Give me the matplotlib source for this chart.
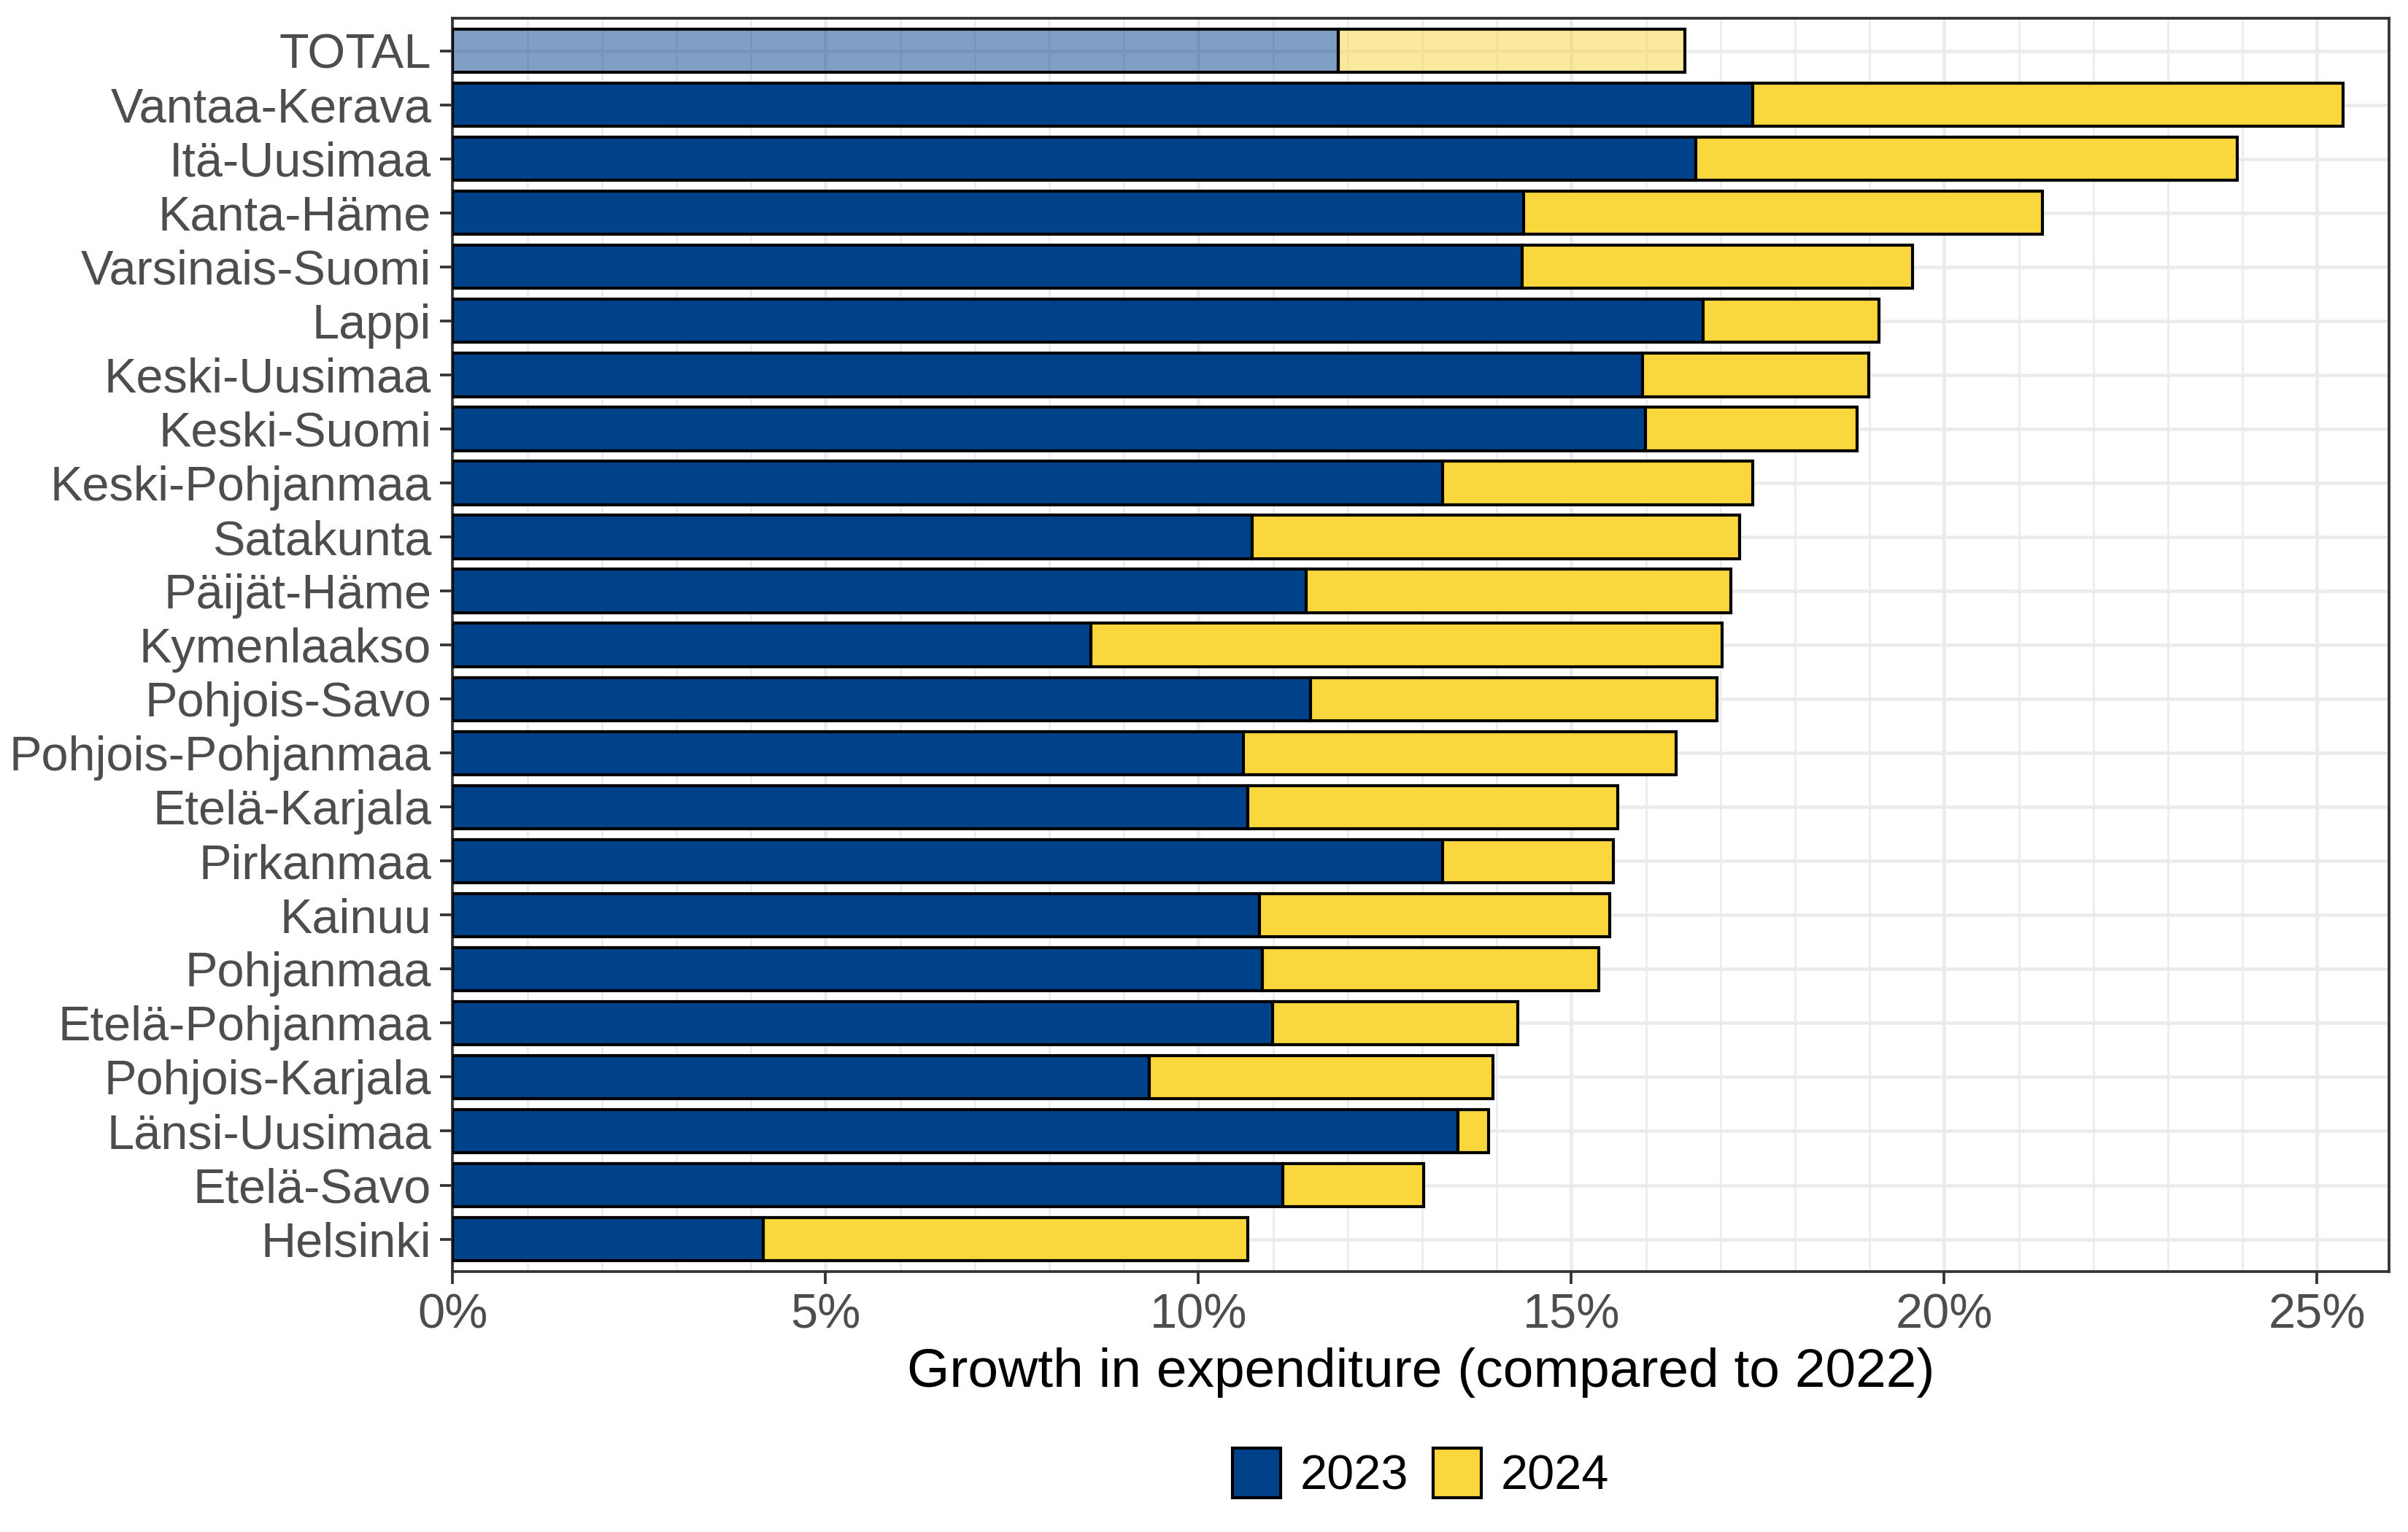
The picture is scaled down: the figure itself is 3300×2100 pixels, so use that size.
import numpy as np
import matplotlib
matplotlib.use("Agg")
import matplotlib.pyplot as plt
from matplotlib.colors import to_rgba
from matplotlib.patches import Patch
from matplotlib.ticker import MultipleLocator, FuncFormatter

plt.rcParams["font.family"] = ["Liberation Sans", "DejaVu Sans"]

regions = ["TOTAL", "Vantaa-Kerava", "Itä-Uusimaa", "Kanta-Häme", "Varsinais-Suomi",
           "Lappi", "Keski-Uusimaa", "Keski-Suomi", "Keski-Pohjanmaa", "Satakunta",
           "Päijät-Häme", "Kymenlaakso", "Pohjois-Savo", "Pohjois-Pohjanmaa",
           "Etelä-Karjala", "Pirkanmaa", "Kainuu", "Pohjanmaa", "Etelä-Pohjanmaa",
           "Pohjois-Karjala", "Länsi-Uusimaa", "Etelä-Savo", "Helsinki"]
# cumulative growth (%) compared to 2022
growth_2023 = [11.87, 17.43, 16.67, 14.36, 14.34, 16.77, 15.95, 15.99, 13.27, 10.72,
               11.44, 8.56, 11.50, 10.60, 10.66, 13.27, 10.82, 10.86, 10.99, 9.34,
               13.48, 11.13, 4.16]
growth_2024 = [16.52, 25.35, 23.93, 21.32, 19.57, 19.12, 18.99, 18.83, 17.43, 17.26,
               17.14, 17.02, 16.95, 16.40, 15.62, 15.56, 15.51, 15.37, 14.28, 13.95,
               13.89, 13.02, 10.66]

blue = "#00428A"
yellow = "#F9D73D"

y = np.arange(len(regions))[::-1]
g23 = np.array(growth_2023)
g24 = np.array(growth_2024)

fig = plt.figure(figsize=(11, 7), dpi=300)
ax = fig.add_axes([0.188, 0.170, 0.804, 0.818])

for i in range(len(regions)):
    a = 0.5 if regions[i] == "TOTAL" else 1.0
    ax.barh(y[i], g23[i], height=0.8, color=to_rgba(blue, a), edgecolor="black",
            linewidth=1.0, zorder=3)
    ax.barh(y[i], g24[i] - g23[i], left=g23[i], height=0.8, color=to_rgba(yellow, a),
            edgecolor="black", linewidth=1.0, zorder=3)

ax.set_xlim(0, 25.96)
ax.set_ylim(-0.6, len(regions) - 0.4)
ax.set_yticks(y)
ax.set_yticklabels(regions)
ax.xaxis.set_major_locator(MultipleLocator(5))
ax.xaxis.set_minor_locator(MultipleLocator(1))
ax.xaxis.set_major_formatter(FuncFormatter(lambda v, p: f"{v:.0f}%"))

ax.grid(True, which="major", color="#EBEBEB", linewidth=1.1, zorder=0)
ax.grid(True, which="minor", axis="x", color="#EBEBEB", linewidth=0.6, zorder=0)
ax.set_axisbelow(True)
for s in ax.spines.values():
    s.set_color("#333333")
    s.set_linewidth(0.9)

ax.tick_params(axis="both", which="major", labelsize=16, labelcolor="#4D4D4D",
               color="#333333", length=4, width=0.9, pad=3)
ax.tick_params(axis="x", which="minor", length=0)
ax.set_xlabel("Growth in expenditure (compared to 2022)", fontsize=18, labelpad=3)

handles = [Patch(facecolor=blue, edgecolor="black", linewidth=1.0, label="2023"),
           Patch(facecolor=yellow, edgecolor="black", linewidth=1.0, label="2024")]
fig.legend(handles=handles, loc="center", bbox_to_anchor=(0.59, 0.038), ncol=2,
           frameon=False, fontsize=16, handlelength=1.0, handleheight=1.2,
           handletextpad=0.4, columnspacing=0.5)

fig.savefig("out.png", dpi=300)
